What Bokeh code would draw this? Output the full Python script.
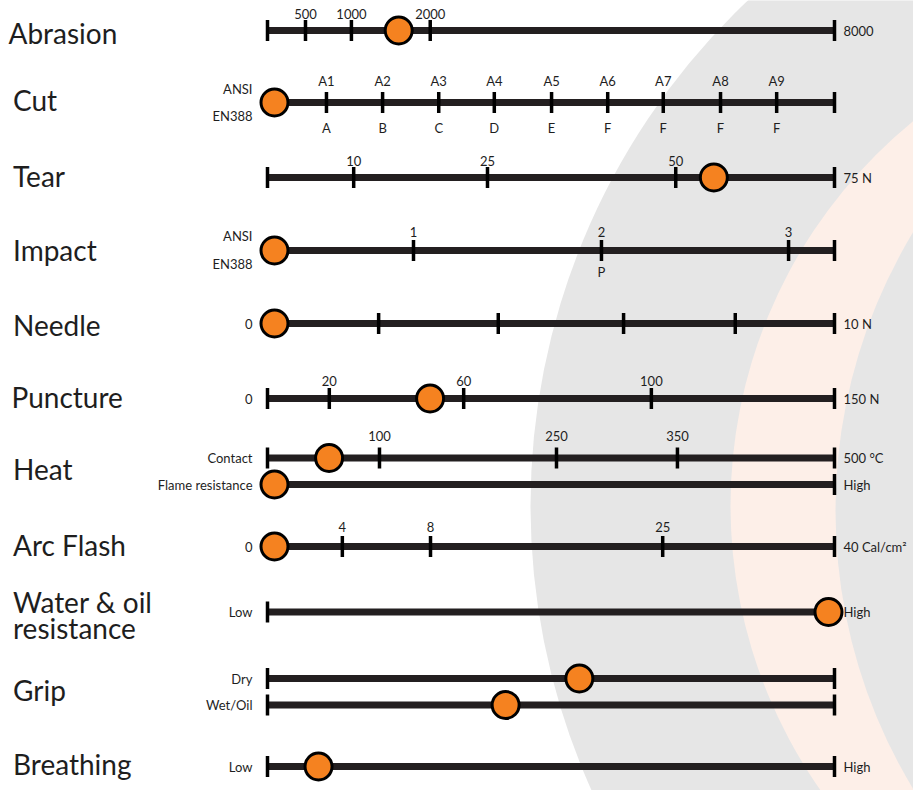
import numpy as np
from bokeh.plotting import figure
from bokeh.models import Range1d
from bokeh.core.properties import value
from bokeh.embed import file_html
from bokeh.resources import INLINE

# ---------------- data ----------------
category_labels = ["Abrasion", "Cut", "Tear", "Impact", "Needle", "Puncture",
                   "Heat", "Arc Flash", "Water & oil", "resistance", "Grip", "Breathing"]

abrasion_ticks = [500, 1000, 2000]
abrasion_max = 8000
abrasion_value = 1600

cut_ansi_levels = ["A1", "A2", "A3", "A4", "A5", "A6", "A7", "A8", "A9"]
cut_en388_levels = ["A", "B", "C", "D", "E", "F", "F", "F", "F"]
cut_value = 0

tear_ticks = [10, 25, 50]
tear_max = 75
tear_value = 56

impact_ansi_levels = ["1", "2", "3"]
impact_en388_levels = ["", "P", ""]
impact_value = 0

needle_ticks = [2, 4, 6, 8]
needle_max = 10
needle_value = 0

puncture_ticks = [20, 60, 100]
puncture_max = 150
puncture_value = 50

heat_contact_ticks = [100, 250, 350]
heat_contact_max = 500
heat_contact_value = 55
flame_resistance_value = 0

arc_flash_ticks = [4, 8, 25]
arc_flash_max = 40
arc_flash_value = 0

# qualitative scales: Low (0) .. High (10)
water_oil_value = 10
grip_dry_value = 5.5
grip_wet_value = 4.2
breathing_value = 0.9

# ---------------- layout ----------------
FONT = "Lato"
X0, X1 = 267, 834
LEN = X1 - X0
LEFT_X = 252
RIGHT_X = 843
LINE_COLOR = "#231f20"
TEXT_COLOR = "#1e1e1e"
ORANGE = "#f58220"

rows = [
    dict(y=30, ticks=abrasion_ticks, vmax=abrasion_max, frac=[0.067, 0.148, 0.287],
         above=[str(t) for t in abrasion_ticks], above_dy=-17, right=str(abrasion_max),
         val=abrasion_value),
    dict(y=102, ticks=list(range(1, 10)), vmax=10,
         frac=[0.104, 0.203, 0.302, 0.400, 0.501, 0.600, 0.698, 0.799, 0.898],
         above=cut_ansi_levels, above_dy=-22, below=cut_en388_levels, below_dy=25,
         left_top="ANSI", left_bottom="EN388", lt_dy=-14, lb_dy=13, val=cut_value),
    dict(y=177, ticks=tear_ticks, vmax=tear_max, frac=[0.152, 0.388, 0.720],
         above=[str(t) for t in tear_ticks], above_dy=-17, right=f"{tear_max} N",
         val=tear_value),
    dict(y=250, ticks=[1, 2, 3], vmax=4, frac=[0.2575, 0.589, 0.919],
         above=impact_ansi_levels, above_dy=-18.5, below=impact_en388_levels, below_dy=21,
         left_top="ANSI", left_bottom="EN388", lt_dy=-15, lb_dy=13, val=impact_value),
    dict(y=323, ticks=needle_ticks, vmax=needle_max, frac=[0.196, 0.407, 0.628, 0.825],
         left="0", right=f"{needle_max} N", val=needle_value),
    dict(y=398, ticks=puncture_ticks, vmax=puncture_max, frac=[0.109, 0.346, 0.677],
         above=[str(t) for t in puncture_ticks], above_dy=-18, left="0",
         right=f"{puncture_max} N", val=puncture_value),
    dict(y=457.5, ticks=heat_contact_ticks, vmax=heat_contact_max, frac=[0.1975, 0.5097, 0.723],
         above=[str(t) for t in heat_contact_ticks], above_dy=-22, left="Contact",
         right=f"{heat_contact_max} °C", val=heat_contact_value),
    dict(y=484, ticks=[], vmax=10, frac=[], left="Flame resistance", right="High",
         val=flame_resistance_value),
    dict(y=546, ticks=arc_flash_ticks, vmax=arc_flash_max, frac=[0.132, 0.2875, 0.697],
         above=[str(t) for t in arc_flash_ticks], above_dy=-20, left="0",
         right=f"{arc_flash_max} Cal/cm²", val=arc_flash_value),
    dict(y=611.5, ticks=[], vmax=10, frac=[], left="Low", right="High", val=water_oil_value),
    dict(y=678, ticks=[], vmax=10, frac=[], left="Dry", val=grip_dry_value),
    dict(y=704.5, ticks=[], vmax=10, frac=[], left="Wet/Oil", val=grip_wet_value),
    dict(y=766, ticks=[], vmax=10, frac=[], left="Low", right="High", val=breathing_value),
]

cat_x = [8, 12.5, 12.5, 12.5, 12.5, 11, 12.5, 12.5, 12.5, 12.5, 12.5, 12.5]
cat_y = [32.5, 99.5, 175.5, 249, 324, 396.5, 468, 544, 601.5, 627.5, 689.5, 763]

# ---------------- build sources ----------------
line_y = []
tick_x, tick_y0, tick_y1 = [], [], []
mk_x, mk_y = [], []
tl_x, tl_y, tl_t = [], [], []          # tick labels (centered)
ll_x, ll_y, ll_t = [], [], []          # left labels (right aligned)
rl_x, rl_y, rl_t = [], [], []          # right labels (left aligned)

for r in rows:
    y = r["y"]
    line_y.append(y)
    fr = [0.0] + list(r["frac"]) + [1.0]
    vals = [0] + list(r["ticks"]) + [r["vmax"]]
    for f in fr:
        tick_x.append(X0 + f * LEN)
        tick_y0.append(y - 10.5)
        tick_y1.append(y + 10.5)
    for i, f in enumerate(r["frac"]):
        x = X0 + f * LEN
        if "above" in r and r["above"][i]:
            tl_x.append(x); tl_y.append(y + r["above_dy"]); tl_t.append(r["above"][i])
        if "below" in r and r["below"][i]:
            tl_x.append(x); tl_y.append(y + r["below_dy"]); tl_t.append(r["below"][i])
    f = float(np.interp(r["val"], vals, fr))
    mx = min(max(X0 + f * LEN, X0 + 7), X1 - 6)
    mk_x.append(mx); mk_y.append(y)
    if "left" in r:
        ll_x.append(LEFT_X); ll_y.append(y); ll_t.append(r["left"])
    if "left_top" in r:
        ll_x.append(LEFT_X); ll_y.append(y + r["lt_dy"]); ll_t.append(r["left_top"])
        ll_x.append(LEFT_X); ll_y.append(y + r["lb_dy"]); ll_t.append(r["left_bottom"])
    if "right" in r:
        rl_x.append(RIGHT_X); rl_y.append(y); rl_t.append(r["right"])

# ---------------- figure ----------------
W, H = 913, 790
p = figure(width=W, height=H, output_backend="svg", toolbar_location=None,
           x_range=Range1d(0, W), y_range=Range1d(H, 0),
           min_border=0, outline_line_color=None,
           background_fill_color="white", border_fill_color="white")
p.axis.visible = False
p.grid.visible = False

# background arcs
p.circle(x=[1226], y=[505], radius=696, fill_color="#e6e6e6", line_color=None)
p.circle(x=[1226], y=[505], radius=496, fill_color="#fdefe8", line_color=None)
p.circle(x=[1373], y=[510], radius=538, fill_color="#e6e6e6", line_color=None)

p.segment(x0=[X0] * len(line_y), y0=line_y, x1=[X1] * len(line_y), y1=line_y,
          line_color=LINE_COLOR, line_width=7, line_cap="butt")
p.segment(x0=tick_x, y0=tick_y0, x1=tick_x, y1=tick_y1,
          line_color="black", line_width=3.5, line_cap="butt")
p.scatter(x=mk_x, y=mk_y, size=27, fill_color=ORANGE, line_color="black", line_width=3)

small = dict(text_font=value(FONT), text_font_size="13px", text_color=TEXT_COLOR,
             text_baseline="middle")
p.text(x=tl_x, y=tl_y, text=tl_t, text_align="center", **small)
p.text(x=ll_x, y=ll_y, text=ll_t, text_align="right", **small)
p.text(x=rl_x, y=rl_y, text=rl_t, text_align="left", **small)

p.text(x=cat_x, y=cat_y, text=category_labels, text_font=value(FONT),
       text_font_size="28px", text_color=TEXT_COLOR, text_align="left",
       text_baseline="middle")

open("out.html", "w").write(file_html(p, INLINE))
